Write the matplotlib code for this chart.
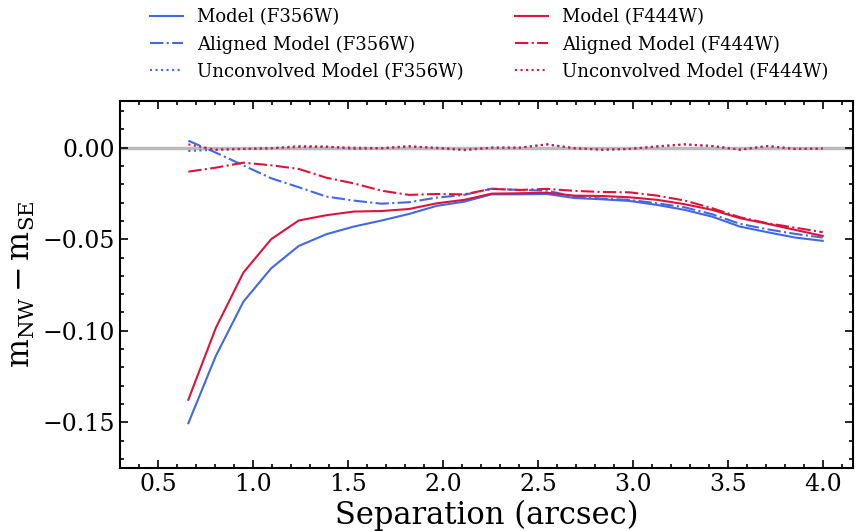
import matplotlib
matplotlib.use("Agg")
import matplotlib.pyplot as plt
from matplotlib.ticker import MultipleLocator

plt.rcParams['font.family'] = ['DejaVu Serif']
plt.rcParams['mathtext.fontset'] = 'dejavuserif'

sep = [0.660, 0.805, 0.950, 1.096, 1.241, 1.386, 1.531, 1.677, 1.822, 1.967,
       2.112, 2.257, 2.403, 2.548, 2.693, 2.838, 2.983, 3.129, 3.274, 3.419,
       3.564, 3.710, 3.855, 4.000]

model_f356w = [-0.1505, -0.1137, -0.0841, -0.0659, -0.0537, -0.0473, -0.0431, -0.0398,
               -0.0362, -0.0318, -0.0295, -0.0255, -0.0255, -0.0253, -0.0275, -0.0282,
               -0.0291, -0.0313, -0.0340, -0.0377, -0.0431, -0.0462, -0.0491, -0.0509]
aligned_f356w = [0.0038, -0.0027, -0.0097, -0.0167, -0.0216, -0.0267, -0.0289, -0.0306,
                 -0.0298, -0.0273, -0.0258, -0.0224, -0.0231, -0.0235, -0.0267, -0.0278,
                 -0.0285, -0.0304, -0.0326, -0.0364, -0.0416, -0.0446, -0.0471, -0.0491]
unconv_f356w = [-0.0018, -0.0011, -0.0007, -0.0003, 0.0009, 0.0007, -0.0007, -0.0003,
                0.0009, -0.0003, -0.0014, 0.0000, 0.0000, 0.0018, -0.0003, -0.0011,
                -0.0007, 0.0007, 0.0018, 0.0009, -0.0011, 0.0009, -0.0007, -0.0005]

model_f444w = [-0.1377, -0.0984, -0.0682, -0.0500, -0.0398, -0.0369, -0.0349, -0.0346,
               -0.0335, -0.0304, -0.0285, -0.0251, -0.0249, -0.0246, -0.0262, -0.0264,
               -0.0271, -0.0285, -0.0309, -0.0340, -0.0385, -0.0416, -0.0449, -0.0482]
aligned_f444w = [-0.0131, -0.0109, -0.0082, -0.0096, -0.0116, -0.0164, -0.0195, -0.0235,
                 -0.0258, -0.0253, -0.0255, -0.0225, -0.0231, -0.0225, -0.0236, -0.0242,
                 -0.0244, -0.0262, -0.0289, -0.0331, -0.0380, -0.0413, -0.0437, -0.0462]
unconv_f444w = [0.0018, -0.0011, -0.0007, -0.0003, 0.0004, 0.0004, 0.0000, -0.0003,
                0.0006, 0.0000, -0.0011, 0.0000, 0.0000, 0.0018, -0.0003, -0.0011,
                -0.0007, 0.0007, 0.0018, 0.0009, -0.0011, 0.0009, -0.0007, -0.0005]

blue = '#4169E1'
red = '#DC143C'

fig = plt.figure(figsize=(8.57, 5.31), dpi=100)
ax = fig.add_axes([0.140, 0.1186, 0.855, 0.6912])

ax.axhline(0, color='#bbbbbb', lw=2.5, zorder=0)

l1, = ax.plot(sep, model_f356w, color=blue, lw=1.5, ls='-', label='Model (F356W)')
l2, = ax.plot(sep, aligned_f356w, color=blue, lw=1.5, ls='-.', label='Aligned Model (F356W)')
l3, = ax.plot(sep, unconv_f356w, color=blue, lw=1.5, ls=':', label='Unconvolved Model (F356W)')
l4, = ax.plot(sep, model_f444w, color=red, lw=1.5, ls='-', label='Model (F444W)')
l5, = ax.plot(sep, aligned_f444w, color=red, lw=1.5, ls='-.', label='Aligned Model (F444W)')
l6, = ax.plot(sep, unconv_f444w, color=red, lw=1.5, ls=':', label='Unconvolved Model (F444W)')

ax.set_xlim(0.3, 4.158)
ax.set_ylim(-0.175, 0.0255)
ax.xaxis.set_major_locator(MultipleLocator(0.5))
ax.xaxis.set_minor_locator(MultipleLocator(0.1))
ax.yaxis.set_major_locator(MultipleLocator(0.05))
ax.yaxis.set_minor_locator(MultipleLocator(0.01))
ax.tick_params(which='both', direction='in', top=True, right=True, labelsize=17)
ax.tick_params(which='major', length=6, width=1.2)
ax.tick_params(which='minor', length=3, width=1.2)
for s in ax.spines.values():
    s.set_linewidth(1.5)

ax.set_xlabel('Separation (arcsec)', fontsize=22, labelpad=3)
ax.set_ylabel(r'$\mathrm{m_{NW} - m_{SE}}$', fontsize=22, labelpad=4)

ax.legend(handles=[l1, l2, l3, l4, l5, l6], ncol=2, frameon=False, fontsize=13,
          loc='lower center', bbox_to_anchor=(0.504, 1.011), columnspacing=2.85,
          handlelength=1.8)

fig.savefig('out.png', dpi=100)
